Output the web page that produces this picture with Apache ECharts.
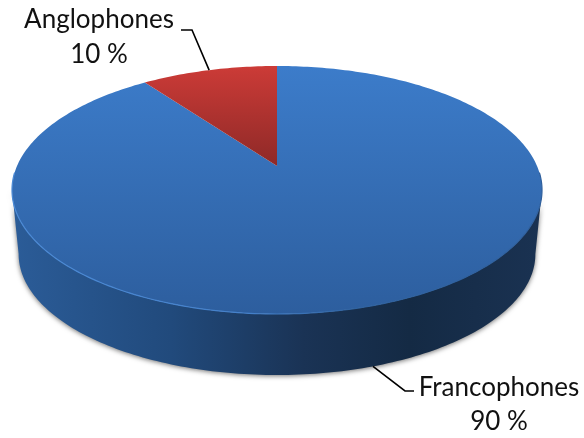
<!DOCTYPE html>
<html>
<head>
<meta charset="utf-8">
<style>html,body{margin:0;padding:0;background:#fff}#chart{width:584px;height:438px}</style>
<script src="https://cdn.jsdelivr.net/npm/echarts@6/dist/echarts.min.js"></script>
</head>
<body>
<div id="chart"></div>
<script>
// Language share of the population
const categories = ['Francophones', 'Anglophones'];
const shares = [90, 10];
const shareLabels = ['90 %', '10 %'];

// Tilted disc: a perspective projection of a unit circle, for the top and bottom faces
const topFace = { cx: 277, cy: 166, a: 260, b: 119.35 };
const bottomFace = { cx: 277, cy: 230.7, a: 253.5, b: 116.4 };
const tilt = 0.1935;
const total = shares.reduce((s, v) => s + v, 0);

function project(face, deg) {
  const t = deg * Math.PI / 180;
  const w = 1 + tilt * Math.cos(t);
  return [face.cx + face.a * Math.sin(t) / w, face.cy - face.b * Math.cos(t) / w];
}
function arc(face, from, to) {
  const pts = [];
  const n = Math.max(2, Math.ceil(Math.abs(to - from)));
  for (let i = 0; i <= n; i++) pts.push(project(face, from + (to - from) * i / n));
  return pts;
}

// Degrees at which the disc outline turns from the top face into the side wall
const tangent = Math.acos(-tilt) * 180 / Math.PI;

const looks = [
  {
    top: [[0, '#3c7cca'], [1, '#2d5e9e']],
    wall: [[0, '#2b5c98'], [0.3, '#214a7c'], [0.55, '#1a3355'], [0.75, '#142a44'], [1, '#1a3252']],
    rim: [[0, '#4b8ad6'], [0.45, '#4480ca'], [0.65, '#2f629f'], [1, '#2e5f9d']],
    label: { x: 499, y: 388, x2: 499, y2: 422 },
    leader: [[405, 391], [414, 391]],
    anchorFace: bottomFace
  },
  {
    top: [[0, '#cc3b37'], [1, '#8e2927']],
    label: { x: 99, y: 20, x2: 99, y2: 55 },
    leader: [[192, 30], [181, 30]],
    anchorFace: topFace
  }
];

function renderSlice(params, api) {
  const i = params.dataIndex;
  const look = looks[i];
  const value = api.value(0);
  const start = shares.slice(0, i).reduce((s, v) => s + v, 0) / total * 360;
  const end = start + value / total * 360;
  const mid = (start + end) / 2;
  const children = [];

  // Side wall: the visible front stretch of this slice
  const wallFrom = Math.max(start, tangent);
  const wallTo = Math.min(end, 360 - tangent);
  if (look.wall && wallTo > wallFrom) {
    children.push({
      type: 'polygon',
      shape: { points: arc(bottomFace, wallFrom, wallTo).concat(arc(topFace, wallTo, wallFrom)) },
      style: {
        fill: new echarts.graphic.LinearGradient(0, 0, 1, 0, look.wall.map(([offset, color]) => ({ offset, color }))),
        shadowBlur: 5, shadowColor: 'rgba(0,0,0,0.55)', shadowOffsetX: 0, shadowOffsetY: 1
      }
    });
  }

  // Top face
  children.push({
    type: 'polygon',
    shape: { points: [[topFace.cx, topFace.cy]].concat(arc(topFace, start, end)) },
    style: {
      fill: new echarts.graphic.LinearGradient(0, 0, 0, 1, look.top.map(([offset, color]) => ({ offset, color })))
    }
  });

  // Light bevel along the front edge of the top face
  if (look.rim) {
    children.push({
      type: 'polyline',
      shape: { points: arc(topFace, 360 - tangent + 8, tangent - 8) },
      style: {
        fill: null, lineWidth: 1.2,
        stroke: new echarts.graphic.LinearGradient(0, 0, 1, 0, look.rim.map(([offset, color]) => ({ offset, color })))
      }
    });
  }

  // Leader from the slice edge to its label
  children.push({
    type: 'polyline',
    shape: { points: [project(look.anchorFace, mid)].concat(look.leader) },
    style: { fill: null, stroke: '#000', lineWidth: 1.6 }
  });

  // Two-line label: category name, then share
  const font = '26px Lato, sans-serif';
  children.push({
    type: 'text',
    style: { text: categories[i], x: look.label.x, y: look.label.y, font, fill: '#111', textAlign: 'center', textVerticalAlign: 'middle' }
  });
  children.push({
    type: 'text',
    style: { text: shareLabels[i], x: look.label.x2, y: look.label.y2, font, fill: '#111', textAlign: 'center', textVerticalAlign: 'middle' }
  });

  return { type: 'group', children };
}

const chart = echarts.init(document.getElementById('chart'), null, { renderer: 'canvas' });
chart.setOption({
  animation: false,
  backgroundColor: '#fff',
  series: [{
    type: 'custom',
    coordinateSystem: 'none',
    silent: true,
    data: shares.map(v => [v]),
    renderItem: renderSlice
  }]
});
</script>
</body>
</html>
